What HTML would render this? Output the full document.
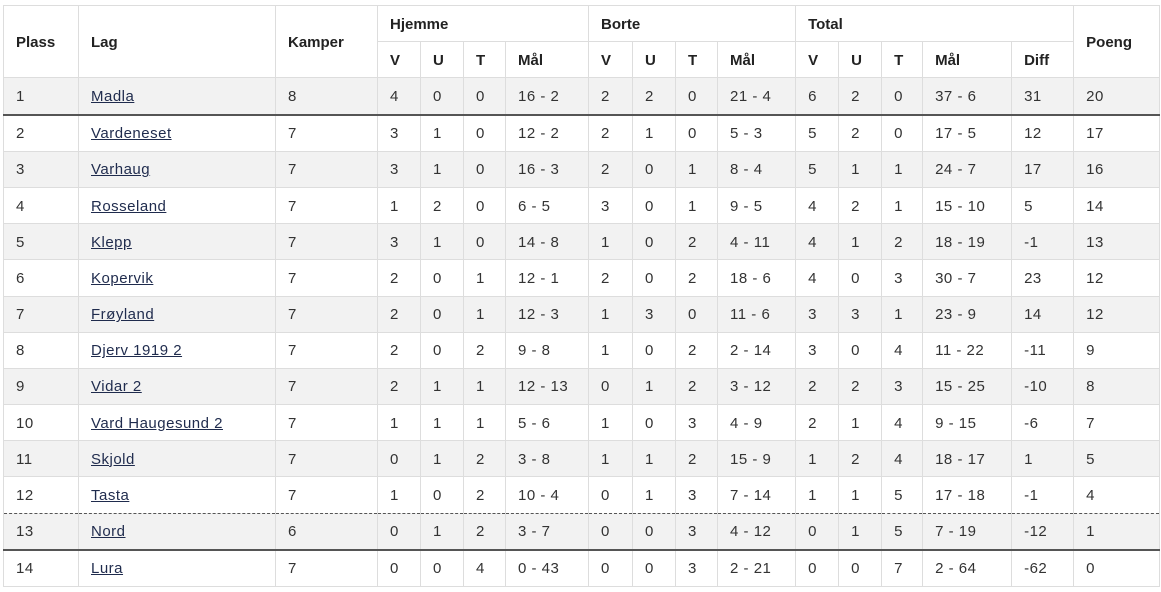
<!DOCTYPE html>
<html><head><meta charset="utf-8"><style>
body{margin:0;background:#fff;width:1161px;height:592px;overflow:hidden;font-family:"Liberation Sans",sans-serif;}
table{position:absolute;left:3px;top:5px;border-collapse:collapse;table-layout:fixed;width:1156px;font-size:15px;color:#333;}
td,th{border:1px solid #ddd;padding:1px 0 0 12px;text-align:left;height:34.2px;white-space:nowrap;}
td{letter-spacing:0.5px;}
th{font-weight:bold;color:#222;font-size:15px;}
tbody tr.w{background:#fff;}
tbody tr.g{background:#f2f2f2;}
a{color:#1f2b4d;text-decoration:underline;}
tr.thick td{border-bottom:2px solid #555;}
tr.dash td{border-bottom:1px dashed #555;}
tr.afterdash td{border-top:none;}
</style></head><body>
<table>
<colgroup><col style="width:75px"><col style="width:197px"><col style="width:102px"><col style="width:43px"><col style="width:43px"><col style="width:42px"><col style="width:83px"><col style="width:44px"><col style="width:43px"><col style="width:42px"><col style="width:78px"><col style="width:43px"><col style="width:43px"><col style="width:41px"><col style="width:89px"><col style="width:62px"><col style="width:86px"></colgroup>
<thead>
<tr><th rowspan="2">Plass</th><th rowspan="2">Lag</th><th rowspan="2">Kamper</th><th colspan="4">Hjemme</th><th colspan="4">Borte</th><th colspan="5">Total</th><th rowspan="2">Poeng</th></tr>
<tr><th>V</th><th>U</th><th>T</th><th>Mål</th><th>V</th><th>U</th><th>T</th><th>Mål</th><th>V</th><th>U</th><th>T</th><th>Mål</th><th>Diff</th></tr>
</thead>
<tbody>
<tr class="thick g"><td>1</td><td><a>Madla</a></td><td>8</td><td>4</td><td>0</td><td>0</td><td>16 - 2</td><td>2</td><td>2</td><td>0</td><td>21 - 4</td><td>6</td><td>2</td><td>0</td><td>37 - 6</td><td>31</td><td>20</td></tr>
<tr class="w"><td>2</td><td><a>Vardeneset</a></td><td>7</td><td>3</td><td>1</td><td>0</td><td>12 - 2</td><td>2</td><td>1</td><td>0</td><td>5 - 3</td><td>5</td><td>2</td><td>0</td><td>17 - 5</td><td>12</td><td>17</td></tr>
<tr class="g"><td>3</td><td><a>Varhaug</a></td><td>7</td><td>3</td><td>1</td><td>0</td><td>16 - 3</td><td>2</td><td>0</td><td>1</td><td>8 - 4</td><td>5</td><td>1</td><td>1</td><td>24 - 7</td><td>17</td><td>16</td></tr>
<tr class="w"><td>4</td><td><a>Rosseland</a></td><td>7</td><td>1</td><td>2</td><td>0</td><td>6 - 5</td><td>3</td><td>0</td><td>1</td><td>9 - 5</td><td>4</td><td>2</td><td>1</td><td>15 - 10</td><td>5</td><td>14</td></tr>
<tr class="g"><td>5</td><td><a>Klepp</a></td><td>7</td><td>3</td><td>1</td><td>0</td><td>14 - 8</td><td>1</td><td>0</td><td>2</td><td>4 - 11</td><td>4</td><td>1</td><td>2</td><td>18 - 19</td><td>-1</td><td>13</td></tr>
<tr class="w"><td>6</td><td><a>Kopervik</a></td><td>7</td><td>2</td><td>0</td><td>1</td><td>12 - 1</td><td>2</td><td>0</td><td>2</td><td>18 - 6</td><td>4</td><td>0</td><td>3</td><td>30 - 7</td><td>23</td><td>12</td></tr>
<tr class="g"><td>7</td><td><a>Frøyland</a></td><td>7</td><td>2</td><td>0</td><td>1</td><td>12 - 3</td><td>1</td><td>3</td><td>0</td><td>11 - 6</td><td>3</td><td>3</td><td>1</td><td>23 - 9</td><td>14</td><td>12</td></tr>
<tr class="w"><td>8</td><td><a>Djerv 1919 2</a></td><td>7</td><td>2</td><td>0</td><td>2</td><td>9 - 8</td><td>1</td><td>0</td><td>2</td><td>2 - 14</td><td>3</td><td>0</td><td>4</td><td>11 - 22</td><td>-11</td><td>9</td></tr>
<tr class="g"><td>9</td><td><a>Vidar 2</a></td><td>7</td><td>2</td><td>1</td><td>1</td><td>12 - 13</td><td>0</td><td>1</td><td>2</td><td>3 - 12</td><td>2</td><td>2</td><td>3</td><td>15 - 25</td><td>-10</td><td>8</td></tr>
<tr class="w"><td>10</td><td><a>Vard Haugesund 2</a></td><td>7</td><td>1</td><td>1</td><td>1</td><td>5 - 6</td><td>1</td><td>0</td><td>3</td><td>4 - 9</td><td>2</td><td>1</td><td>4</td><td>9 - 15</td><td>-6</td><td>7</td></tr>
<tr class="g"><td>11</td><td><a>Skjold</a></td><td>7</td><td>0</td><td>1</td><td>2</td><td>3 - 8</td><td>1</td><td>1</td><td>2</td><td>15 - 9</td><td>1</td><td>2</td><td>4</td><td>18 - 17</td><td>1</td><td>5</td></tr>
<tr class="dash w"><td>12</td><td><a>Tasta</a></td><td>7</td><td>1</td><td>0</td><td>2</td><td>10 - 4</td><td>0</td><td>1</td><td>3</td><td>7 - 14</td><td>1</td><td>1</td><td>5</td><td>17 - 18</td><td>-1</td><td>4</td></tr>
<tr class="thick g afterdash"><td>13</td><td><a>Nord</a></td><td>6</td><td>0</td><td>1</td><td>2</td><td>3 - 7</td><td>0</td><td>0</td><td>3</td><td>4 - 12</td><td>0</td><td>1</td><td>5</td><td>7 - 19</td><td>-12</td><td>1</td></tr>
<tr class="w"><td>14</td><td><a>Lura</a></td><td>7</td><td>0</td><td>0</td><td>4</td><td>0 - 43</td><td>0</td><td>0</td><td>3</td><td>2 - 21</td><td>0</td><td>0</td><td>7</td><td>2 - 64</td><td>-62</td><td>0</td></tr>
</tbody></table>
</body></html>
